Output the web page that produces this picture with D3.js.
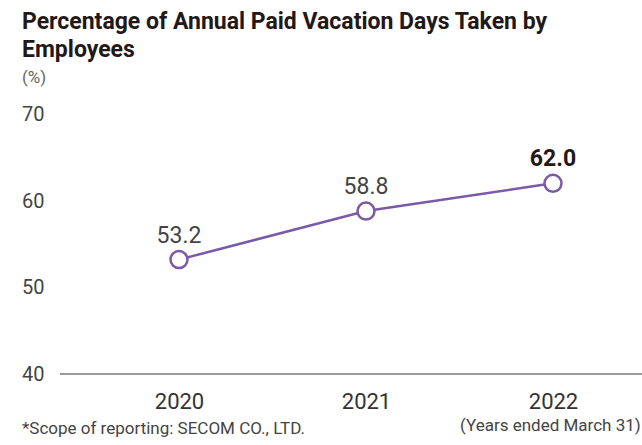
<!DOCTYPE html>
<html>
<head>
<meta charset="utf-8">
<script src="https://cdn.jsdelivr.net/npm/d3@7"></script>
<style>
  body { margin: 0; background: #fff; }
  svg text { font-family: Roboto, "Noto Sans", sans-serif; }
</style>
</head>
<body>
<div id="container"></div>
<script>
var years = ['2020', '2021', '2022'],
    values = [53.2, 58.8, 62.0],
    yTicks = [40, 50, 60, 70];

var w = 642, h = 445,
    purple = '#7a5aa8';

var svg = d3.select('#container').append('svg')
    .attr('width', w)
    .attr('height', h);

/* scales */
var xScale = d3.scalePoint()
    .domain(years)
    .range([179, 553]);

var yScale = d3.scaleLinear()
    .domain([40, 70])
    .range([374, 114]);

// title
svg.append('text')
    .attr('x', 22).attr('y', 29)
    .style('font-size', '23px').style('font-weight', 'bold').style('fill', '#231815')
    .text('Percentage of Annual Paid Vacation Days Taken by');
svg.append('text')
    .attr('x', 22).attr('y', 57)
    .style('font-size', '23px').style('font-weight', 'bold').style('fill', '#231815')
    .text('Employees');

svg.append('text')
    .attr('x', 22).attr('y', 83)
    .style('font-size', '17px').style('fill', '#666')
    .text('(%)');

// y axis labels
var yAxis = d3.axisLeft(yScale).tickValues(yTicks).tickSize(0).tickPadding(0);
var gy = svg.append('g')
    .attr('transform', 'translate(22,0)')
    .call(yAxis);
gy.select('.domain').remove();
gy.selectAll('text')
    .attr('text-anchor', 'start')
    .style('font-size', '20px')
    .style('fill', '#444');

// x axis
var xAxis = d3.axisBottom(xScale).tickSize(0).tickPadding(19);
var gx = svg.append('g')
    .attr('transform', 'translate(0,' + yScale(40) + ')')
    .call(xAxis);
gx.select('.domain').remove();
gx.selectAll('text')
    .style('font-size', '22px')
    .style('fill', '#333');

svg.append('line')
    .attr('x1', 60).attr('x2', w)
    .attr('y1', yScale(40)).attr('y2', yScale(40))
    .style('stroke', '#333').style('stroke-width', 1);

// line
var line = d3.line()
    .x((d, i) => xScale(years[i]))
    .y(d => yScale(d));

svg.append('path')
    .datum(values)
    .attr('d', line)
    .style('fill', 'none')
    .style('stroke', purple)
    .style('stroke-width', 2.5);

svg.selectAll('circle').data(values)
    .enter().append('circle')
    .attr('cx', (d, i) => xScale(years[i]))
    .attr('cy', d => yScale(d))
    .attr('r', 8.5)
    .style('fill', '#fff')
    .style('stroke', purple)
    .style('stroke-width', 2.5);

svg.selectAll('.val').data(values)
    .enter().append('text')
    .attr('class', 'val')
    .attr('x', (d, i) => xScale(years[i]))
    .attr('y', d => yScale(d) - 17)
    .attr('text-anchor', 'middle')
    .style('font-size', '23px')
    .style('font-weight', (d, i) => i === values.length - 1 ? 'bold' : 'normal')
    .style('fill', (d, i) => i === values.length - 1 ? '#231815' : '#444')
    .text(d => d.toFixed(1));

// notes
svg.append('text')
    .attr('x', 22).attr('y', 434)
    .style('font-size', '17px').style('fill', '#444')
    .text('*Scope of reporting: SECOM CO., LTD.');
svg.append('text')
    .attr('x', 460).attr('y', 431)
    .style('font-size', '17px').style('fill', '#444')
    .text('(Years ended March 31)');
</script>
</body>
</html>
